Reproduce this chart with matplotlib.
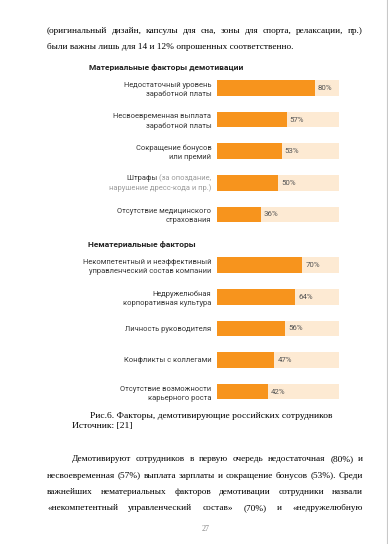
import matplotlib
matplotlib.use("Agg")
import matplotlib.pyplot as plt
from matplotlib.transforms import Affine2D

# ---- chart data ----
material_labels = [
    "Недостаточный уровень\nзаработной платы",
    "Несвоевременная выплата\nзаработной платы",
    "Сокращение бонусов\nили премий",
    "",  # "Штрафы" is drawn separately (two colours)
    "Отсутствие медицинского\nстрахования",
]
material_values = [80, 57, 53, 50, 36]

nonmaterial_labels = [
    "Некомпетентный и неэффективный\nуправленческий состав компании",
    "Недружелюбная\nкорпоративная культура",
    "Личность руководителя",
    "Конфликты с коллегами",
    "Отсутствие возможности\nкарьерного роста",
]
nonmaterial_values = [70, 64, 56, 47, 42]

# ---- page text ----
top_lines = [
    "(оригинальный дизайн, капсулы для сна, зоны для спорта, релаксации, пр.)",
    "были важны лишь для 14 и 12% опрошенных соответственно.",
]
caption = "Рис.6. Факторы, демотивирующие российских сотрудников"
source = "Источник: [21]"
bottom_lines = [
    "Демотивируют сотрудников в первую очередь недостаточная (80%) и",
    "несвоевременная (57%) выплата зарплаты и сокращение бонусов (53%). Среди",
    "важнейших нематериальных факторов демотивации сотрудники назвали",
    "«некомпетентный управленческий состав» (70%) и «недружелюбную",
]

W, H = 388, 544
ORANGE = "#F7941D"
PEACH = "#FDEAD3"
SANS = ["Roboto", "DejaVu Sans"]
SERIF = ["Liberation Serif", "DejaVu Serif"]
LBL = 5.4

fig = plt.figure(figsize=(W / 100, H / 100), dpi=100)
fig.patch.set_facecolor("white")
# pixel coordinates, y from the top
pix = Affine2D().scale(1, -1).translate(0, H)
renderer = fig.canvas.get_renderer()


def ptext(x, y, s, **kw):
    return fig.text(x, y, s, transform=pix, **kw)


def justify(line, x0, x1, y, size=6.7):
    words = line.split(" ")
    arts = [ptext(0, y, w, fontsize=size, family=SERIF, va="center") for w in words]
    widths = [a.get_window_extent(renderer).width for a in arts]
    gap = (x1 - x0 - sum(widths)) / max(len(words) - 1, 1)
    x = x0
    for a, w in zip(arts, widths):
        a.set_x(x)
        x += w + gap


# right page edge
fig.add_artist(plt.Line2D([386.5, 386.5], [0, H], transform=pix, color="#c8c8c8", lw=0.8))

justify(top_lines[0], 47, 363, 30.7)
ptext(47, 47.3, top_lines[1], fontsize=6.7, family=SERIF, va="center")

ptext(90.5, 415.5, caption, fontsize=6.8, family=SERIF, va="center")
ptext(72.5, 426.3, source, fontsize=6.8, family=SERIF, va="center")

justify(bottom_lines[0], 72, 363, 459)
justify(bottom_lines[1], 47, 363, 475.5)
justify(bottom_lines[2], 47, 363, 492)
justify(bottom_lines[3], 47, 363, 508.5)
ptext(205.5, 529, "27", fontsize=5.8, family=SERIF, va="center", ha="center", color="#888888")


def section(top_px, labels, values):
    # 5 bars, 31.6 px apart, axis spans half a step above and below
    step = 31.6
    ax = fig.add_axes([217 / W, 1 - (top_px + 5 * step) / H, 122 / W, 5 * step / H])
    ys = range(len(values))
    ax.barh(ys, [100] * len(values), height=0.49, color=PEACH, lw=0)
    ax.barh(ys, values, height=0.49, color=ORANGE, lw=0)
    for y, v in zip(ys, values):
        ax.text(v + 2.5, y, f"{v}%", va="center", ha="left", fontsize=5.7,
                family=SANS, color="#555555")
    ax.set_xlim(0, 100)
    ax.set_ylim(len(values) - 0.5, -0.5)
    ax.set_yticks(list(ys))
    ax.set_yticklabels(labels, fontsize=LBL, family=SANS, color="#363636",
                       linespacing=1.4, ha="right")
    ax.tick_params(axis="y", length=0, pad=4)
    ax.set_xticks([])
    for s in ax.spines.values():
        s.set_visible(False)
    ax.patch.set_alpha(0)
    return ax


ax1 = section(72.2, material_labels, material_values)
ax2 = section(249.4, nonmaterial_labels, nonmaterial_values)

ptext(89, 67.8, "Материальные факторы демотивации", fontsize=6.0, family=SANS,
      weight="bold", color="#222222", va="center")
ptext(88, 245, "Нематериальные факторы", fontsize=6.0, family=SANS,
      weight="bold", color="#222222", va="center")

# "Штрафы (за опоздание, / нарушение дресс-кода и пр.)" in two colours
grey1 = ax1.annotate("(за опоздание,", xy=(-4, 3), xycoords=("axes points", "data"),
                     xytext=(0, 0.7), textcoords="offset points",
                     va="bottom", ha="right", fontsize=LBL, family=SANS, color="#9a9a9a",
                     annotation_clip=False)
ax1.annotate("нарушение дресс-кода и пр.)", xy=(-4, 3), xycoords=("axes points", "data"),
             xytext=(0, -0.7), textcoords="offset points",
             va="top", ha="right", fontsize=LBL, family=SANS, color="#9a9a9a",
             annotation_clip=False)
ax1.annotate("Штрафы ", xy=(0, 0), xycoords=grey1, va="bottom", ha="right",
             fontsize=LBL, family=SANS, color="#363636", annotation_clip=False)

fig.savefig("out.png", dpi=100)
